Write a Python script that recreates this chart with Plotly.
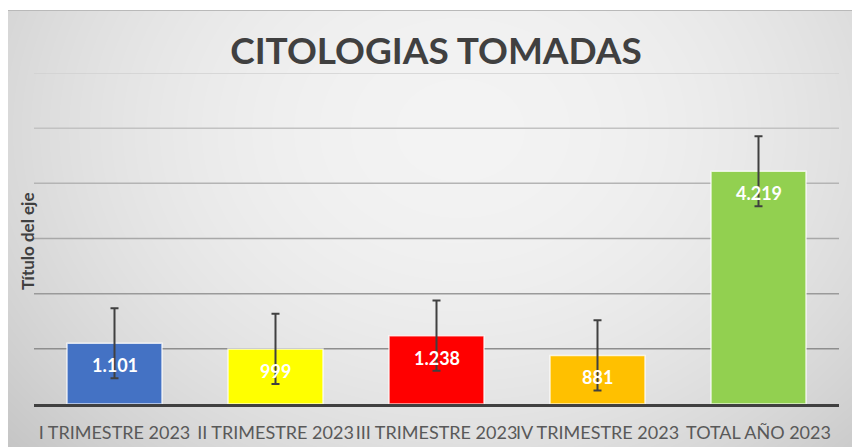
import zlib, struct, base64
import numpy as np
import plotly.graph_objects as go

# ---- data ----
categories = ["I TRIMESTRE 2023", "II TRIMESTRE 2023", "III TRIMESTRE 2023",
              "IV TRIMESTRE 2023", "TOTAL AÑO 2023"]
values = [1101, 999, 1238, 881, 4219]
errors = [636, 636, 636, 636, 636]
bar_colors = ["#4472C4", "#FFFF00", "#FF0000", "#FFC000", "#92D050"]
grid_values = [1000, 2000, 3000, 4000, 5000, 6000]
grid_colors = ["#8e8e8e", "#9a9a9a", "#a8a8a8", "#b4b4b4", "#c2c2c2", "#d0d0d0"]

W, H = 852, 447
ML, MR, MT, MB = 34, 13, 73, 43
PW, PH = W - ML - MR, H - MT - MB

# ---- background gradient image ----
def png_gray(arr):
    h, w = arr.shape
    raw = b"".join(b"\x00" + arr[i].tobytes() for i in range(h))
    def chunk(t, d):
        return struct.pack(">I", len(d)) + t + d + struct.pack(">I", zlib.crc32(t + d) & 0xffffffff)
    return (b"\x89PNG\r\n\x1a\n" + chunk(b"IHDR", struct.pack(">IIBBBBB", w, h, 8, 0, 0, 0, 0))
            + chunk(b"IDAT", zlib.compress(raw, 9)) + chunk(b"IEND", b""))

yy, xx = np.mgrid[0:H, 0:W]
d2 = ((xx - 460) / 500.0) ** 2 + ((yy - 130) / 400.0) ** 2
v = np.clip(0.955 - 0.125 * d2, 0, 1) * 255
v[(xx < 8) | (yy < 10)] = 255
v[(yy == 10) & (xx >= 8)] = 185
img = "data:image/png;base64," + base64.b64encode(png_gray(v.astype(np.uint8))).decode()

fig = go.Figure()
fig.add_trace(go.Bar(
    x=categories, y=values,
    marker=dict(color=bar_colors, line=dict(color="rgba(255,255,255,0.75)", width=1.5)),
    error_y=dict(type="data", array=errors, visible=True, color="#404040", thickness=2, width=4),
    hoverinfo="x+y",
))

annotations = []
for c, val in zip(categories, values):
    annotations.append(dict(
        x=c, y=val, xref="x", yref="y", yshift=-22, showarrow=False,
        text=f"{val:,}".replace(",", "."),
        font=dict(family="Lato", size=18, color="white", weight="bold"),
        yanchor="middle",
    ))
annotations.append(dict(
    x=(27 - ML) / PW, y=(404 - 241) / PH, xref="paper", yref="paper", showarrow=False,
    text="Título del eje", textangle=-90,
    font=dict(family="Lato", size=17, color="#404040", weight="bold"),
    xanchor="center", yanchor="middle",
))

shapes = []
for gv, gc in zip(grid_values, grid_colors):
    shapes.append(dict(type="line", xref="paper", yref="y", x0=0, x1=1, y0=gv, y1=gv,
                       line=dict(color=gc, width=1.5), layer="below"))

fig.update_layout(
    width=W, height=H,
    margin=dict(l=ML, r=MR, t=MT, b=MB, autoexpand=False),
    paper_bgcolor="white", plot_bgcolor="rgba(0,0,0,0)",
    bargap=0.41, showlegend=False,
    title=dict(text="<b>CITOLOGIAS TOMADAS</b>", x=436 / W, y=1 - 51 / H,
               xanchor="center", yanchor="middle",
               font=dict(family="Lato", size=37, color="#404040")),
    xaxis=dict(showline=True, linecolor="#404040", linewidth=3, showgrid=False,
               tickfont=dict(family="Lato", size=18, color="#595959"),
               tickangle=0, ticks="", ticklabelstandoff=10, fixedrange=True),
    yaxis=dict(range=[0, 6000], showgrid=False, zeroline=False, showticklabels=False,
               showline=False, fixedrange=True),
    images=[dict(source=img, xref="paper", yref="paper", x=-ML / PW, y=1 + MT / PH,
                 sizex=W / PW, sizey=H / PH, xanchor="left", yanchor="top",
                 sizing="stretch", layer="below")],
    annotations=annotations,
    shapes=shapes,
)

fig.write_html("out.html", config={"displayModeBar": False},
               post_script="document.body.style.margin='0';document.body.style.overflow='hidden';")
